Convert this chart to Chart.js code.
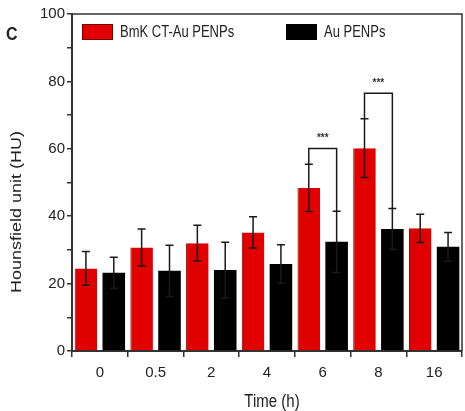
<!DOCTYPE html>
<html>
<head>
<meta charset="utf-8">
<script src="https://cdn.jsdelivr.net/npm/chart.js@4/dist/chart.umd.min.js"></script>
<style>
  html, body { margin: 0; padding: 0; background: #fff; }
  #wrap { width: 465px; height: 411px; }
</style>
</head>
<body>
<div id="wrap"><canvas id="chart" width="465" height="411"></canvas></div>
<script>
// Time points (h)
const timeLabels = ['0', '0.5', '2', '4', '6', '8', '16'];

// Mean CT values (HU) and their error bars
const bmkValues = [24.5, 30.7, 32.0, 35.2, 48.4, 60.2, 36.4];
const bmkErrors = [5.0, 5.5, 5.3, 4.6, 7.0, 8.7, 4.2];
const auValues  = [23.2, 23.8, 24.0, 25.8, 32.4, 36.2, 30.9];
const auErrors  = [4.6, 7.6, 8.3, 5.7, 9.1, 6.1, 4.3];

// Significance brackets: category index, bracket height (HU), label
const sigIndex  = [4, 5];
const sigHeight = [60.1, 76.5];
const sigLabel  = ['***', '***'];

const errorsByDataset = [bmkErrors, auErrors];
const FONT = "'Liberation Sans', Arial, sans-serif";
const AXIS = '#333';

// Error bars with caps, drawn on top of the bars
const errorBars = {
  id: 'errorBars',
  afterDatasetsDraw(chart) {
    const ctx = chart.ctx, y = chart.scales.y;
    ctx.save();
    ctx.strokeStyle = '#1a1a1a';
    ctx.lineWidth = 1.5;
    chart.data.datasets.forEach((ds, di) => {
      const meta = chart.getDatasetMeta(di);
      meta.data.forEach((bar, i) => {
        const v = ds.data[i], e = errorsByDataset[di][i];
        const yt = y.getPixelForValue(v + e), yb = y.getPixelForValue(v - e);
        const cap = 4;
        ctx.beginPath();
        ctx.moveTo(bar.x, yt); ctx.lineTo(bar.x, yb);
        ctx.moveTo(bar.x - cap, yt); ctx.lineTo(bar.x + cap, yt);
        ctx.moveTo(bar.x - cap, yb); ctx.lineTo(bar.x + cap, yb);
        ctx.stroke();
      });
    });
    ctx.restore();
  }
};

// Significance brackets between the two bars of a time point
const sigBrackets = {
  id: 'sigBrackets',
  afterDatasetsDraw(chart) {
    const ctx = chart.ctx, y = chart.scales.y;
    const m0 = chart.getDatasetMeta(0), m1 = chart.getDatasetMeta(1);
    ctx.save();
    ctx.strokeStyle = '#1a1a1a';
    ctx.lineWidth = 1.5;
    sigIndex.forEach((idx, k) => {
      const x0 = m0.data[idx].x, x1 = m1.data[idx].x;
      const yTop = y.getPixelForValue(sigHeight[k]);
      const y0 = y.getPixelForValue(bmkValues[idx] + bmkErrors[idx]);
      const y1 = y.getPixelForValue(auValues[idx] + auErrors[idx]);
      ctx.beginPath();
      ctx.moveTo(x0, y0); ctx.lineTo(x0, yTop); ctx.lineTo(x1, yTop); ctx.lineTo(x1, y1);
      ctx.stroke();
      ctx.fillStyle = '#333';
      ctx.font = 'bold 10px ' + FONT;
      ctx.textAlign = 'center';
      ctx.textBaseline = 'middle';
      ctx.fillText(sigLabel[k], (x0 + x1) / 2, yTop - 10);
    });
    ctx.restore();
  }
};

// Frame, in-plot legend, axis titles and panel letter
const decorations = {
  id: 'decorations',
  afterDraw(chart) {
    const ctx = chart.ctx, a = chart.chartArea;
    ctx.save();
    // top and right frame lines
    ctx.strokeStyle = AXIS;
    ctx.lineWidth = 1.5;
    ctx.beginPath();
    ctx.moveTo(a.left, a.top); ctx.lineTo(a.right, a.top); ctx.lineTo(a.right, a.bottom);
    ctx.stroke();

    // legend inside the plot
    const legendX = [82, 286];
    chart.data.datasets.forEach((ds, i) => {
      const x = legendX[i];
      ctx.fillStyle = ds.backgroundColor;
      ctx.fillRect(x, 24, 31, 16);
      ctx.strokeStyle = ds.borderColor;
      ctx.lineWidth = 1;
      ctx.strokeRect(x + 0.5, 24.5, 30, 15);
      ctx.fillStyle = '#222';
      ctx.font = '13px ' + FONT;
      ctx.textAlign = 'left';
      ctx.textBaseline = 'middle';
      ctx.save();
      ctx.translate(x + 38, 33);
      ctx.scale(1, 1.2);
      ctx.fillText(ds.label, 0, 0);
      ctx.restore();
    });

    // y-axis title
    ctx.fillStyle = '#222';
    ctx.font = '15px ' + FONT;
    ctx.textAlign = 'center';
    ctx.textBaseline = 'middle';
    ctx.save();
    ctx.translate(17, 212);
    ctx.rotate(-Math.PI / 2);
    ctx.scale(1.2, 1);
    ctx.fillText('Hounsfield unit (HU)', 0, 0);
    ctx.restore();

    // x-axis title
    ctx.save();
    ctx.translate(272, 402);
    ctx.scale(1, 1.2);
    ctx.fillText('Time (h)', 0, 0);
    ctx.restore();

    // panel letter
    ctx.font = 'bold 16px ' + FONT;
    ctx.textAlign = 'left';
    ctx.save();
    ctx.translate(6, 35);
    ctx.scale(1, 1.2);
    ctx.fillText('C', 0, 0);
    ctx.restore();
    ctx.restore();
  }
};

new Chart(document.getElementById('chart'), {
  type: 'bar',
  data: {
    labels: timeLabels,
    datasets: [
      {
        label: 'BmK CT-Au PENPs',
        data: bmkValues,
        backgroundColor: '#e00000',
        borderColor: '#7a0000',
        borderWidth: { left: 1, right: 0, top: 0, bottom: 0 }
      },
      {
        label: 'Au PENPs',
        data: auValues,
        backgroundColor: '#000000',
        borderColor: '#000000',
        borderWidth: 0
      }
    ]
  },
  options: {
    responsive: false,
    animation: false,
    layout: { padding: { top: 14, right: 3, left: 0, bottom: 0 } },
    plugins: { legend: { display: false }, tooltip: { enabled: false } },
    datasets: { bar: { barPercentage: 0.81, categoryPercentage: 1.0 } },
    scales: {
      x: {
        grid: { display: true, drawOnChartArea: false, drawTicks: true, tickLength: 6, color: AXIS, lineWidth: 1.5 },
        border: { display: true, color: AXIS, width: 2 },
        ticks: { color: '#222', font: { family: FONT, size: 15 }, padding: 7, maxRotation: 0 },
        afterFit(scale) { scale.height = 60; }
      },
      y: {
        min: 0,
        max: 100,
        grid: { display: true, drawOnChartArea: false, drawTicks: true, tickLength: 5, color: AXIS, lineWidth: 1.5 },
        border: { display: true, color: AXIS, width: 2 },
        ticks: {
          stepSize: 10,
          color: '#222',
          font: { family: FONT, size: 15 },
          padding: 2,
          callback: (v) => (v % 20 === 0 ? String(v) : '')
        },
        afterFit(scale) { scale.width = 72; }
      }
    }
  },
  plugins: [errorBars, sigBrackets, decorations]
});
</script>
</body>
</html>
